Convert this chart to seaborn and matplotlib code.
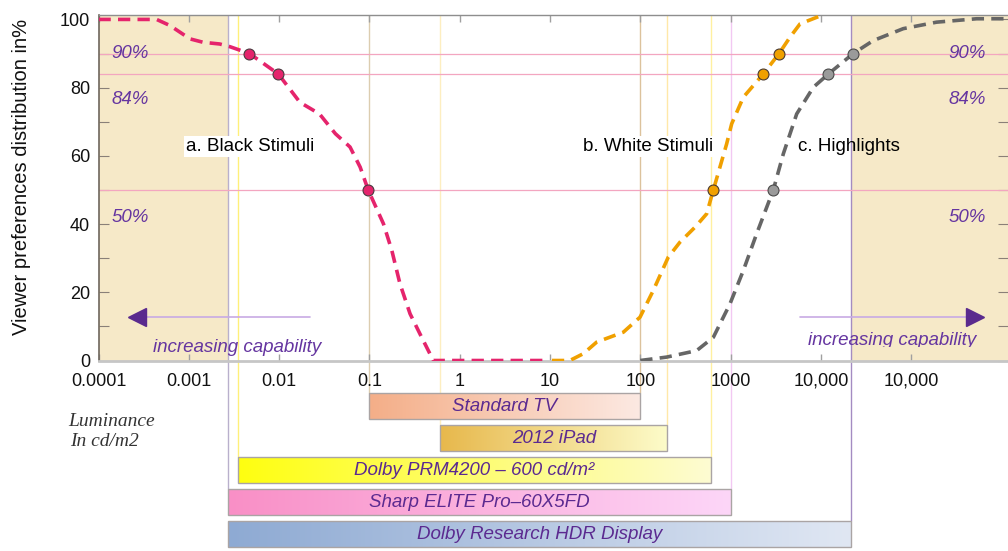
import numpy as np
import matplotlib
matplotlib.use("Agg")
import matplotlib.pyplot as plt
import seaborn as sns
from matplotlib.colors import LinearSegmentedColormap
from matplotlib.transforms import Bbox, TransformedBbox
from matplotlib.ticker import NullLocator, FixedLocator

# ---------------- data ----------------
black_lum = [0.0001, 0.00044, 0.00062, 0.00103, 0.00144, 0.0022, 0.00286, 0.0047,
             0.0098, 0.017, 0.028, 0.042, 0.061, 0.079, 0.097, 0.143, 0.177,
             0.218, 0.282, 0.363, 0.51, 9.3]
black_pct = [100, 100, 98.2, 94.3, 93.3, 92.8, 92.0, 90, 84, 75.7, 72.3, 66.5,
             62.6, 56.7, 50, 40.1, 32.3, 22.5, 13.7, 7.8, 0, 0]

white_lum = [10.5, 16.6, 23.4, 32.9, 64.9, 99.3, 139, 204, 275, 404, 543, 644,
             762, 904, 1028, 1384, 2300, 3440, 4550, 5875, 9770]
white_pct = [0, 0, 2.0, 5.4, 8.3, 12.7, 20.5, 30.3, 34.7, 39.1, 43.0, 50, 56.7,
             63.5, 69.4, 77.2, 84, 90, 94.8, 98.7, 101]

high_lum = [100, 196, 421, 644, 984, 1384, 1945, 2970, 3837, 5395, 8241, 12100,
            22800, 38000, 81700, 191000, 531000, 1175000]
high_pct = [0, 1.0, 2.9, 6.8, 16.6, 26.4, 37.2, 50, 60.6, 72.3, 80.1, 84, 90,
            93.8, 97.3, 99.2, 100.2, 100.2]

black_mark_lum = [0.0047, 0.0098, 0.097]
black_mark_pct = [90, 84, 50]
white_mark_lum = [644, 2300, 3440]
white_mark_pct = [50, 84, 90]
high_mark_lum = [2970, 12100, 22800]
high_mark_pct = [50, 84, 90]

pct_lines = [90, 84, 50]
pct_labels = ["90%", "84%", "50%"]
pct_label_y = [89.9, 76.5, 41.8]

xtick_vals = [1e-4, 1e-3, 1e-2, 1e-1, 1, 10, 100, 1000, 1e4, 1e5]
xtick_labels = ["0.0001", "0.001", "0.01", "0.1", "1", "10", "100", "1000",
                "10,000", "10,000"]

shade_left = 0.00272
shade_right = 21400

display_names = ["Standard TV", "2012 iPad", "Dolby PRM4200 \u2013 600 cd/m\u00b2",
                 "Sharp ELITE Pro\u201360X5FD", "Dolby Research HDR Display"]
display_min = [0.1, 0.61, 0.0035, 0.00272, 0.00272]
display_max = [100, 200, 600, 1000, 21400]
display_c0 = ["#f4ae88", "#e7b84c", "#ffff10", "#f98fc6", "#8eaad3"]
display_c1 = ["#fce9e2", "#fdfcca", "#fdfbd2", "#fdd6f8", "#e0e7f3"]

guide_x = [0.00272, 0.0035, 0.1, 0.61, 100, 200, 600, 1000, 21400]
guide_col = ["#b9b0cc", "#fff07a", "#dccdb0", "#fdeec0", "#dcc29c", "#ffe8a8",
             "#fff0a0", "#f2c8f2", "#a48cc2"]
guide_stop = [3, 2, 0, 1, 0, 1, 2, 3, 4]

# ---------------- style ----------------
sns.set_theme(style="white")
plt.rcParams["font.family"] = ["Liberation Sans", "DejaVu Sans"]

W, H = 1008, 551
fig = plt.figure(figsize=(W / 100, H / 100), dpi=100, facecolor="white")


def px_rect(l, t, r, b):
    return [l / W, 1 - b / H, (r - l) / W, (b - t) / H]


XMIN, XMAX = 1e-4, 10 ** 6.072
LMIN, LMAX = np.log10(XMIN), np.log10(XMAX)

axb = fig.add_axes(px_rect(98.5, 361, 1008, 551))
ax = fig.add_axes(px_rect(98.5, 15, 1008, 360.5))
axb.set_zorder(0)
ax.set_zorder(2)
ax.patch.set_alpha(0)

# ---------------- main axes ----------------
ax.set_xscale("log")
ax.set_xlim(XMIN, XMAX)
ax.set_ylim(0, 101.3)

ax.axvspan(XMIN, shade_left, color="#f6e9c8", zorder=0, lw=0)
ax.axvspan(shade_right, XMAX, color="#f6e9c8", zorder=0, lw=0)
for gx, gc in zip(guide_x, guide_col):
    ax.axvline(gx, color=gc, lw=1.0, zorder=0.5)
for yl in pct_lines:
    ax.axhline(yl, color="#f3a6c0", lw=0.9, zorder=0.6)

dash = (0, (3.4, 2.0))
sns.lineplot(x=black_lum, y=black_pct, ax=ax, sort=False, estimator=None,
             color="#e5246c", lw=2.6, linestyle=dash, zorder=3)
sns.lineplot(x=white_lum, y=white_pct, ax=ax, sort=False, estimator=None,
             color="#f0a000", lw=2.6, linestyle=dash, zorder=3)
sns.lineplot(x=high_lum, y=high_pct, ax=ax, sort=False, estimator=None,
             color="#666666", lw=2.6, linestyle=dash, zorder=3)

sns.scatterplot(x=black_mark_lum, y=black_mark_pct, ax=ax, color="#e5246c", s=62,
                edgecolor="#4a3a40", linewidth=0.8, zorder=4)
sns.scatterplot(x=white_mark_lum, y=white_mark_pct, ax=ax, color="#f0a000", s=62,
                edgecolor="#4a3a30", linewidth=0.8, zorder=4)
sns.scatterplot(x=high_mark_lum, y=high_mark_pct, ax=ax, color="#9a9a9a", s=62,
                edgecolor="#4a4a4a", linewidth=0.8, zorder=4)

purple = "#6535a0"
for lab, yy in zip(pct_labels, pct_label_y):
    ax.text(0.000224, yy, lab, ha="center", va="center", fontsize=13.5,
            style="italic", color=purple, zorder=5)
    ax.text(417000, yy, lab, ha="center", va="center", fontsize=13.5,
            style="italic", color=purple, zorder=5)

box = dict(facecolor="white", edgecolor="none", pad=1.5)
ax.text(0.00476, 62.8, "a. Black Stimuli", ha="center", va="center",
        fontsize=13.5, color="black", bbox=box, zorder=5)
ax.text(121.6, 62.8, "b. White Stimuli", ha="center", va="center",
        fontsize=13.5, color="black", bbox=box, zorder=5)
ax.text(20460, 62.8, "c. Highlights", ha="center", va="center",
        fontsize=13.5, color="black", zorder=5)

# arrows
ax.plot([0.0221, 0.00025], [12.7, 12.7], color="#c8aae4", lw=1.2, zorder=4)
ax.plot([0.000265], [12.7], marker="<", markersize=13, color="#5a2a8e",
        lw=0, zorder=4)
ax.plot([5890, 500000], [12.7, 12.7], color="#c8aae4", lw=1.2, zorder=4)
ax.plot([510000], [12.7], marker=">", markersize=13, color="#5a2a8e",
        lw=0, zorder=4)
ax.text(0.00341, 3.8, "increasing capability", ha="center", va="center",
        fontsize=13.5, style="italic", color=purple, zorder=5)
t = ax.text(61700, 5.9, "increasing capability", ha="center", va="center",
            fontsize=13.5, style="italic", color=purple, zorder=5)
t.set_clip_box(TransformedBbox(Bbox([[XMIN, 3.9], [XMAX, 101.3]]), ax.transData))
t.set_clip_on(True)

# ticks & spines
ax.xaxis.set_major_locator(FixedLocator(xtick_vals))
ax.xaxis.set_minor_locator(NullLocator())
ax.set_xticks(xtick_vals)
ax.set_xticklabels(xtick_labels)
ax.set_yticks(range(0, 101, 20))
ax.set_yticks(range(10, 100, 20), minor=True)
ax.tick_params(axis="x", which="major", direction="in", length=5, width=1,
               color="#a0a0a0", top=True, bottom=True, labelsize=13, pad=9,
               labelcolor="#111111")
ax.tick_params(axis="y", which="both", direction="in", length=7, width=0.8,
               color="#8a8078", left=True, right=True, labelsize=13, pad=6,
               labelcolor="#111111")
ax.spines["left"].set_color("#6e665c")
ax.spines["left"].set_linewidth(1.2)
ax.spines["top"].set_color("#8e8e8e")
ax.spines["top"].set_linewidth(1.0)
ax.spines["bottom"].set_color("#c6c6c6")
ax.spines["bottom"].set_linewidth(2.0)
ax.spines["right"].set_visible(False)

ax.set_ylabel("Viewer preferences distribution in%", fontsize=14.5,
              color="#111111")
ax.yaxis.set_label_coords(-0.074, 0.53)
ax.set_xlabel("")

# ---------------- display bars ----------------
axb.set_xscale("log")
axb.set_xlim(XMIN, XMAX)
YTOP, YBOT = -1.406, 4.53
axb.set_ylim(YBOT, YTOP)
axb.axis("off")

for gx, gc, gs in zip(guide_x, guide_col, guide_stop):
    axb.vlines(gx, YTOP, gs - 0.405, color=gc, lw=1.0, zorder=0.5)

bar_h = 0.81
bars = axb.barh(range(len(display_names)),
                [b - a for a, b in zip(display_min, display_max)],
                left=display_min, height=bar_h, color="none",
                edgecolor="#aaa4a4", linewidth=1.0, zorder=3)
grad = np.linspace(0, 1, 256).reshape(1, -1)
for i, (patch, c0, c1) in enumerate(zip(bars.patches, display_c0, display_c1)):
    cmap = LinearSegmentedColormap.from_list("g%d" % i, [c0, c1])
    fx0 = (np.log10(display_min[i]) - LMIN) / (LMAX - LMIN)
    fx1 = (np.log10(display_max[i]) - LMIN) / (LMAX - LMIN)
    fy_top = (YBOT - (i - bar_h / 2)) / (YBOT - YTOP)
    fy_bot = (YBOT - (i + bar_h / 2)) / (YBOT - YTOP)
    im = axb.imshow(grad, extent=[fx0, fx1, fy_bot, fy_top], cmap=cmap,
                    aspect="auto", transform=axb.transAxes, zorder=2,
                    interpolation="bilinear")
    im.set_clip_path(patch)
    xc = np.sqrt(display_min[i] * display_max[i])
    axb.text(xc, i, display_names[i], ha="center", va="center", fontsize=13.5,
             style="italic", color="#5b2a90", zorder=4)
axb.set_xlim(XMIN, XMAX)
axb.set_ylim(YBOT, YTOP)

# luminance label
fig.text(68 / W, 1 - 421 / H, "Luminance", fontsize=14, style="italic",
         family=["Liberation Serif", "DejaVu Serif"], color="#333333",
         ha="left", va="center")
fig.text(70 / W, 1 - 441 / H, "In cd/m2", fontsize=14, style="italic",
         family=["Liberation Serif", "DejaVu Serif"], color="#333333",
         ha="left", va="center")

fig.savefig("out.png", dpi=100, facecolor="white")
